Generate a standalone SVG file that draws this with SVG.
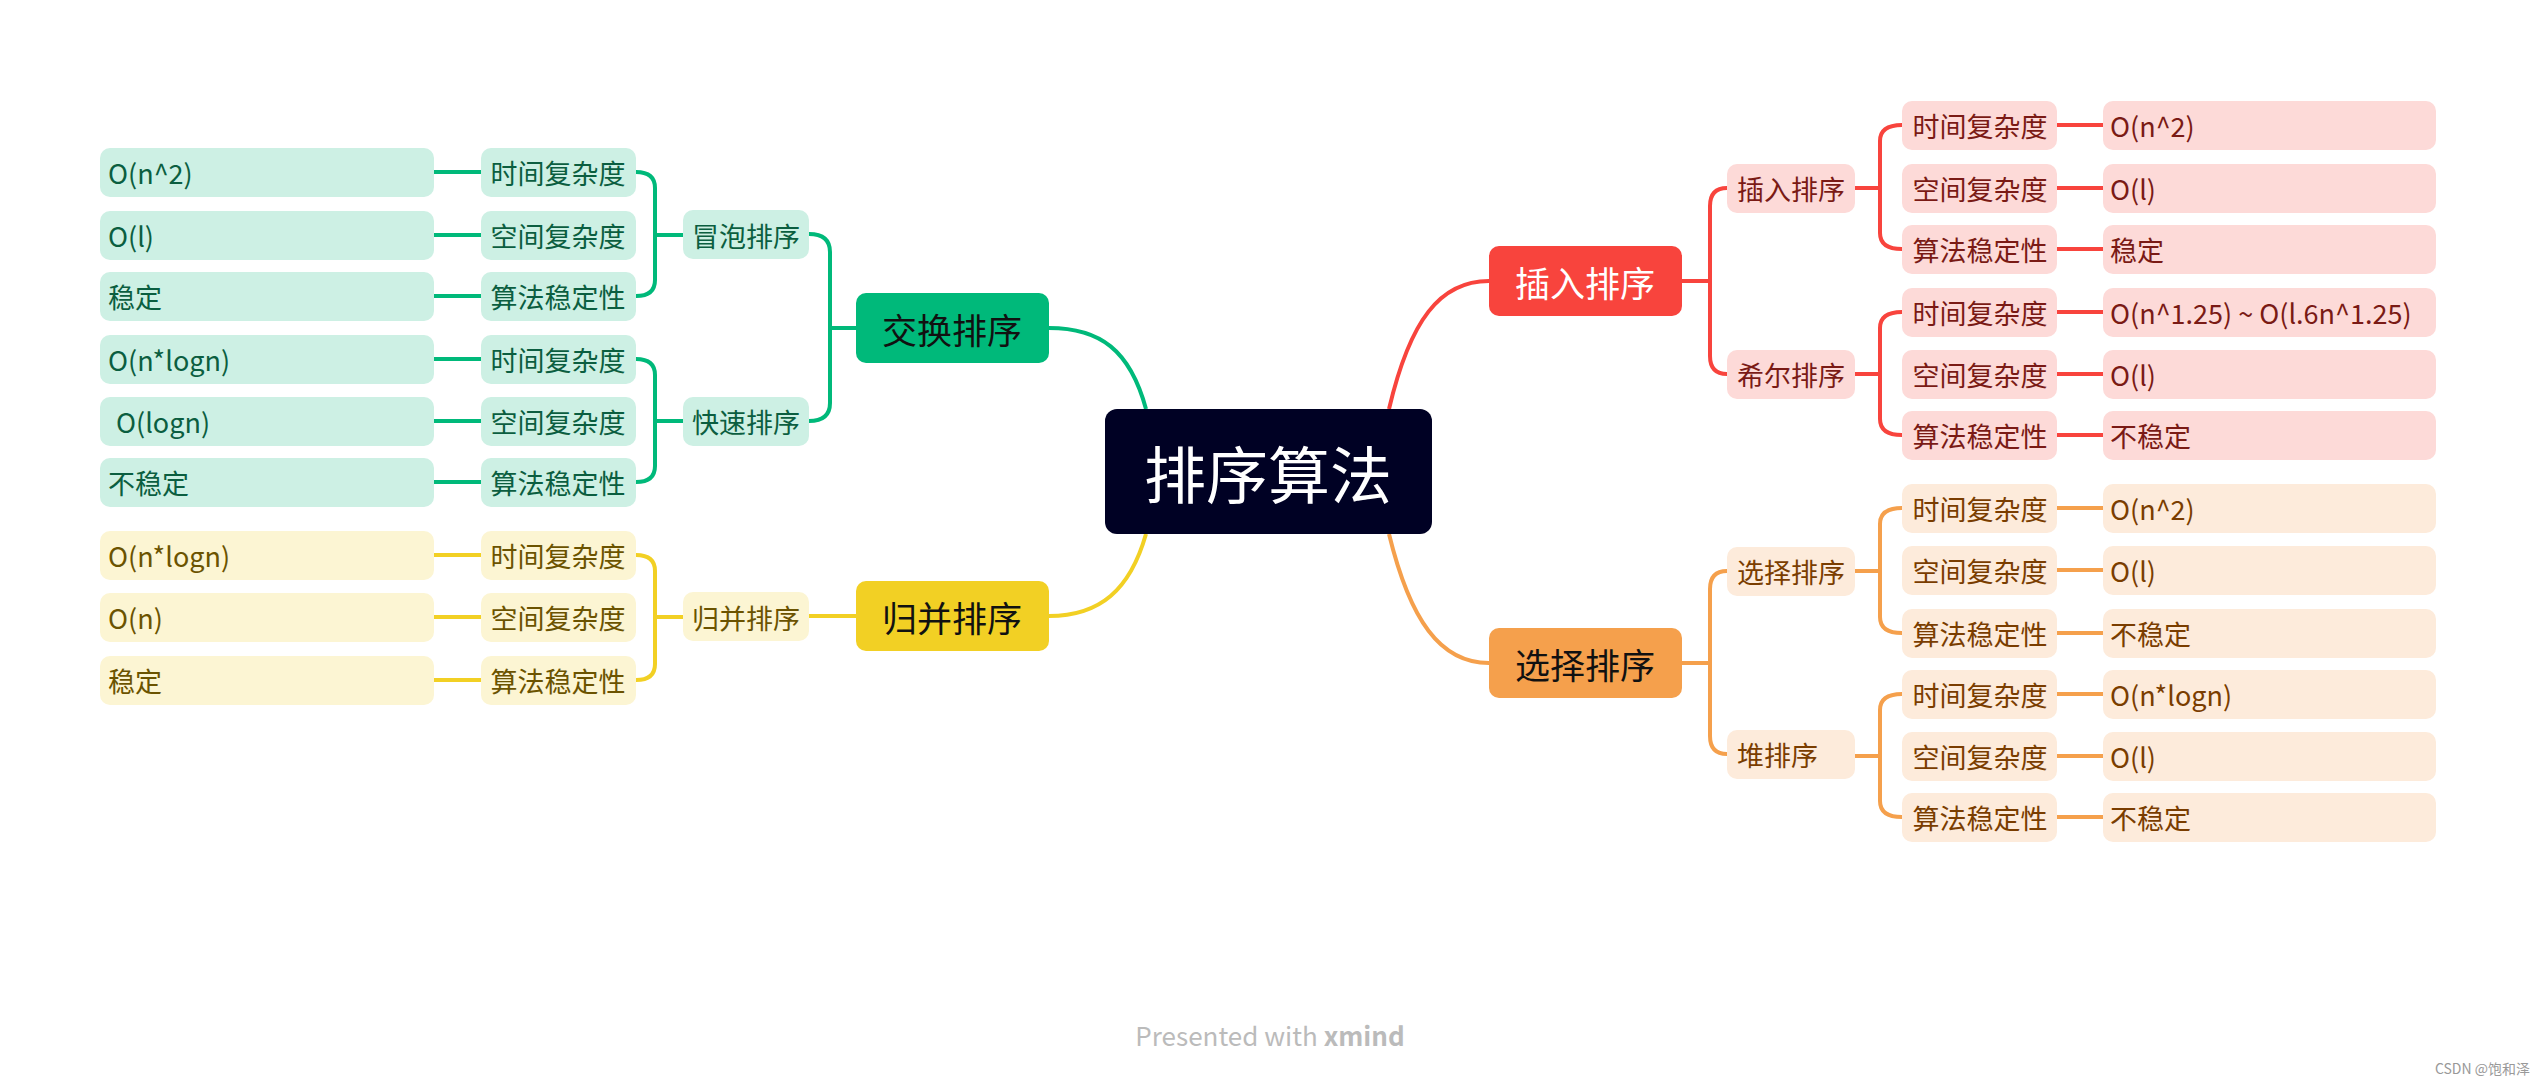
<svg xmlns="http://www.w3.org/2000/svg" width="2538" height="1084" viewBox="0 0 2538 1084">
<style>
text{font-family:"Noto Sans CJK SC","Noto Sans",sans-serif;font-size:27px;dominant-baseline:central}
.c{text-anchor:middle}
.g rect{fill:#CDF0E4}.g text{fill:#0B5E40}
.y rect{fill:#FCF5D3}.y text{fill:#6B5300}
.r rect{fill:#FDDAD8}.r text{fill:#7A1A15}
.o rect{fill:#FDEBDB}.o text{fill:#7A3D00}
.lg{stroke:#00B97A}.ly{stroke:#F2D024}.lr{stroke:#F8443D}.lo{stroke:#F5A04C}
#conn path{fill:none;stroke-width:4}
.m text{font-size:35px;fill:#111}
</style>
<rect width="2538" height="1084" fill="#fff"/>
<g id="conn">
<path class="lg" d="M1146,409 C1130,350 1100,328 1049,328"/>
<path class="ly" d="M1146,534 C1130,590 1100,616 1049,616"/>
<path class="lr" d="M1389,409 C1410,320 1440,281 1489,281"/>
<path class="lo" d="M1389,534 C1410,620 1440,663 1489,663"/>
<path class="lg" d="M856,328 H830 M809,234 Q830,234 830,252 V403 Q830,421 809,421"/>
<path class="lg" d="M683,235 H655 M636,172 Q655,172 655,188 V280 Q655,296 636,296 M481,172 H434 M481,235 H434 M481,296 H434"/>
<path class="lg" d="M683,421 H655 M636,359 Q655,359 655,375 V466 Q655,482 636,482 M481,359 H434 M481,421 H434 M481,482 H434"/>
<path class="ly" d="M856,616 H809 M683,617 H655 M636,555 Q655,555 655,571 V664 Q655,680 636,680 M481,555 H434 M481,617 H434 M481,680 H434"/>
<path class="lr" d="M1682,281 H1710 M1727,188 Q1710,188 1710,206 V356 Q1710,374 1727,374"/>
<path class="lr" d="M1855,188 H1880 M1902,125 Q1880,125 1880,141 V233 Q1880,249 1902,249 M2057,125 H2103 M2057,188 H2103 M2057,249 H2103"/>
<path class="lr" d="M1855,374 H1880 M1902,312 Q1880,312 1880,328 V419 Q1880,435 1902,435 M2057,312 H2103 M2057,374 H2103 M2057,435 H2103"/>
<path class="lo" d="M1682,663 H1710 M1727,571 Q1710,571 1710,589 V736 Q1710,754 1727,754"/>
<path class="lo" d="M1855,571 H1880 M1902,508 Q1880,508 1880,524 V617 Q1880,633 1902,633 M2057,508 H2103 M2057,570 H2103 M2057,633 H2103"/>
<path class="lo" d="M1855,756 H1880 M1902,694 Q1880,694 1880,710 V801 Q1880,817 1902,817 M2057,694 H2103 M2057,756 H2103 M2057,817 H2103"/>
</g>
<g id="root"><rect x="1105" y="409" width="327" height="125" rx="12" fill="#000124"/><text x="1268" y="472" class="c" style="font-size:62px;fill:#fff">排序算法</text></g>
<g id="jh" class="m"><rect x="856" y="293" width="193" height="70" rx="10" fill="#00B97A"/><text x="952" y="328" class="c">交换排序</text></g>
<g id="gb" class="m"><rect x="856" y="581" width="193" height="70" rx="10" fill="#F2D024"/><text x="952" y="616" class="c">归并排序</text></g>
<g id="cr" class="m"><rect x="1489" y="246" width="193" height="70" rx="10" fill="#F8443D"/><text x="1585" y="281" class="c" style="fill:#fff">插入排序</text></g>
<g id="xz" class="m"><rect x="1489" y="628" width="193" height="70" rx="10" fill="#F5A04C"/><text x="1585" y="663" class="c">选择排序</text></g>
<g id="mp" class="g"><rect x="683" y="210" width="126" height="49" rx="10"/><text x="746" y="235" class="c">冒泡排序</text></g>
<g id="ks" class="g"><rect x="683" y="397" width="126" height="49" rx="10"/><text x="746" y="421" class="c">快速排序</text></g>
<g id="gb2" class="y"><rect x="683" y="592" width="126" height="49" rx="10"/><text x="746" y="617" class="c">归并排序</text></g>
<g id="crs" class="r"><rect x="1727" y="164" width="128" height="49" rx="10"/><text x="1791" y="188" class="c">插入排序</text></g>
<g id="xe" class="r"><rect x="1727" y="350" width="128" height="49" rx="10"/><text x="1791" y="374" class="c">希尔排序</text></g>
<g id="xzs" class="o"><rect x="1727" y="547" width="128" height="49" rx="10"/><text x="1791" y="571" class="c">选择排序</text></g>
<g id="d" class="o"><rect x="1727" y="730" width="128" height="49" rx="10"/><text x="1737" y="754">堆排序</text></g>
<g id="L" class="g">
<rect x="481" y="148" width="155" height="49" rx="10"/><text x="558" y="172" class="c">时间复杂度</text>
<rect x="481" y="211" width="155" height="49" rx="10"/><text x="558" y="235" class="c">空间复杂度</text>
<rect x="481" y="272" width="155" height="49" rx="10"/><text x="558" y="296" class="c">算法稳定性</text>
<rect x="481" y="335" width="155" height="49" rx="10"/><text x="558" y="359" class="c">时间复杂度</text>
<rect x="481" y="397" width="155" height="49" rx="10"/><text x="558" y="421" class="c">空间复杂度</text>
<rect x="481" y="458" width="155" height="49" rx="10"/><text x="558" y="482" class="c">算法稳定性</text>
<rect x="100" y="148" width="334" height="49" rx="10"/><text x="108" y="172">O(n^2)</text>
<rect x="100" y="211" width="334" height="49" rx="10"/><text x="108" y="235">O(l)</text>
<rect x="100" y="272" width="334" height="49" rx="10"/><text x="108" y="296">稳定</text>
<rect x="100" y="335" width="334" height="49" rx="10"/><text x="108" y="359">O(n*logn)</text>
<rect x="100" y="397" width="334" height="49" rx="10"/><text x="116" y="421">O(logn)</text>
<rect x="100" y="458" width="334" height="49" rx="10"/><text x="108" y="482">不稳定</text>
</g>
<g id="LY" class="y">
<rect x="481" y="531" width="155" height="49" rx="10"/><text x="558" y="555" class="c">时间复杂度</text>
<rect x="481" y="593" width="155" height="49" rx="10"/><text x="558" y="617" class="c">空间复杂度</text>
<rect x="481" y="656" width="155" height="49" rx="10"/><text x="558" y="680" class="c">算法稳定性</text>
<rect x="100" y="531" width="334" height="49" rx="10"/><text x="108" y="555">O(n*logn)</text>
<rect x="100" y="593" width="334" height="49" rx="10"/><text x="108" y="617">O(n)</text>
<rect x="100" y="656" width="334" height="49" rx="10"/><text x="108" y="680">稳定</text>
</g>
<g id="R" class="r">
<rect x="1902" y="101" width="155" height="49" rx="10"/><text x="1980" y="125" class="c">时间复杂度</text>
<rect x="1902" y="164" width="155" height="49" rx="10"/><text x="1980" y="188" class="c">空间复杂度</text>
<rect x="1902" y="225" width="155" height="49" rx="10"/><text x="1980" y="249" class="c">算法稳定性</text>
<rect x="1902" y="288" width="155" height="49" rx="10"/><text x="1980" y="312" class="c">时间复杂度</text>
<rect x="1902" y="350" width="155" height="49" rx="10"/><text x="1980" y="374" class="c">空间复杂度</text>
<rect x="1902" y="411" width="155" height="49" rx="10"/><text x="1980" y="435" class="c">算法稳定性</text>
<rect x="2103" y="101" width="333" height="49" rx="10"/><text x="2110" y="125">O(n^2)</text>
<rect x="2103" y="164" width="333" height="49" rx="10"/><text x="2110" y="188">O(l)</text>
<rect x="2103" y="225" width="333" height="49" rx="10"/><text x="2110" y="249">稳定</text>
<rect x="2103" y="288" width="333" height="49" rx="10"/><text x="2110" y="312">O(n^1.25) ~ O(l.6n^1.25)</text>
<rect x="2103" y="350" width="333" height="49" rx="10"/><text x="2110" y="374">O(l)</text>
<rect x="2103" y="411" width="333" height="49" rx="10"/><text x="2110" y="435">不稳定</text>
</g>
<g id="RO" class="o">
<rect x="1902" y="484" width="155" height="49" rx="10"/><text x="1980" y="508" class="c">时间复杂度</text>
<rect x="1902" y="546" width="155" height="49" rx="10"/><text x="1980" y="570" class="c">空间复杂度</text>
<rect x="1902" y="609" width="155" height="49" rx="10"/><text x="1980" y="633" class="c">算法稳定性</text>
<rect x="1902" y="670" width="155" height="49" rx="10"/><text x="1980" y="694" class="c">时间复杂度</text>
<rect x="1902" y="732" width="155" height="49" rx="10"/><text x="1980" y="756" class="c">空间复杂度</text>
<rect x="1902" y="793" width="155" height="49" rx="10"/><text x="1980" y="817" class="c">算法稳定性</text>
<rect x="2103" y="484" width="333" height="49" rx="10"/><text x="2110" y="508">O(n^2)</text>
<rect x="2103" y="546" width="333" height="49" rx="10"/><text x="2110" y="570">O(l)</text>
<rect x="2103" y="609" width="333" height="49" rx="10"/><text x="2110" y="633">不稳定</text>
<rect x="2103" y="670" width="333" height="49" rx="10"/><text x="2110" y="694">O(n*logn)</text>
<rect x="2103" y="732" width="333" height="49" rx="10"/><text x="2110" y="756">O(l)</text>
<rect x="2103" y="793" width="333" height="49" rx="10"/><text x="2110" y="817">不稳定</text>
</g>
<text x="1270" y="1034" class="c" style="font-size:26px;fill:#bbb">Presented with <tspan style="font-weight:bold">xmind</tspan></text>
<text x="2530" y="1068" style="font-size:14px;fill:#999;text-anchor:end">CSDN @饱和泽</text>
</svg>
